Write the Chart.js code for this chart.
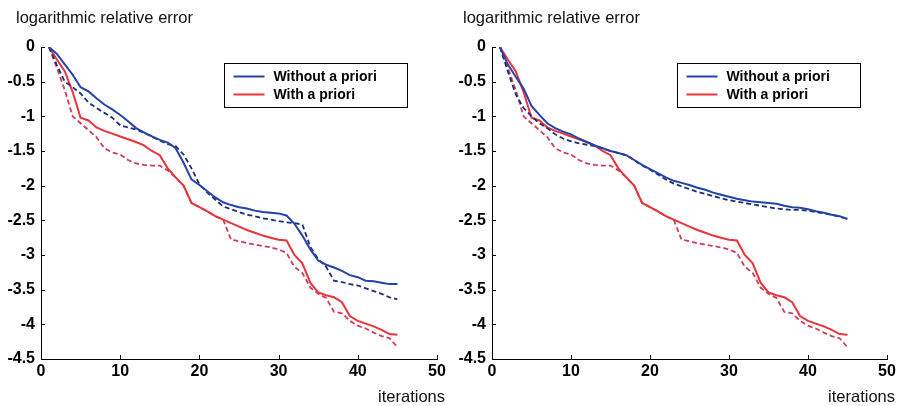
<!DOCTYPE html>
<html>
<head>
<meta charset="utf-8">
<script src="https://cdn.jsdelivr.net/npm/chart.js@4/dist/chart.umd.min.js"></script>
<style>
  html, body { margin: 0; padding: 0; background: #fff; }
  #wrap { position: relative; width: 899px; height: 406px; overflow: hidden; }
  .panel { position: absolute; top: 0; height: 406px; }
  #p1 { left: 0; width: 450px; }
  #p2 { left: 450px; width: 449px; }
</style>
</head>
<body>
<div id="wrap">
  <div class="panel" id="p1"><canvas id="c1" width="450" height="406"></canvas></div>
  <div class="panel" id="p2"><canvas id="c2" width="449" height="406"></canvas></div>
</div>
<script>
// Iteration numbers shared by every curve
const iterations = [1, 2, 3, 4, 5, 6, 7, 8, 9, 10, 11, 12, 13, 14, 15, 16, 17, 18, 19, 20,
  21, 22, 23, 24, 25, 26, 27, 28, 29, 30, 31, 32, 33, 34, 35, 36, 37, 38, 39, 40,
  41, 42, 43, 44, 45];

// Axis ticks
const xTicks = [0, 10, 20, 30, 40, 50];
const yTicks = [0, -0.5, -1, -1.5, -2, -2.5, -3, -3.5, -4, -4.5];

// Texts
const legendLabels = ['Without a priori', 'With a priori'];
const yAxisTitle = 'logarithmic relative error';
const xAxisTitle = 'iterations';

// Left panel, without a priori (solid and dashed runs)
const leftWithout = [0, -0.1, -0.25, -0.4, -0.58, -0.64, -0.74, -0.83, -0.9, -0.98,
  -1.07, -1.17, -1.23, -1.29, -1.34, -1.38, -1.46, -1.67, -1.91, -1.99,
  -2.08, -2.17, -2.24, -2.28, -2.31, -2.33, -2.36, -2.38, -2.39, -2.4,
  -2.43, -2.55, -2.72, -2.92, -3.08, -3.14, -3.18, -3.23, -3.29, -3.32,
  -3.37, -3.38, -3.4, -3.42, -3.42];
const leftWithoutDashed = [0, -0.26, -0.5, -0.58, -0.67, -0.8, -0.88, -0.95, -1.02, -1.13,
  -1.16, -1.19, -1.24, -1.29, -1.35, -1.4, -1.43, -1.55, -1.75, -1.98,
  -2.1, -2.2, -2.3, -2.34, -2.38, -2.42, -2.44, -2.47, -2.49, -2.51,
  -2.53, -2.54, -2.56, -2.88, -3.06, -3.17, -3.37, -3.39, -3.42, -3.44,
  -3.48, -3.52, -3.56, -3.61, -3.64];

// Right panel, without a priori (solid and dashed runs)
const rightWithout = [0, -0.25, -0.43, -0.6, -0.85, -0.98, -1.1, -1.17, -1.22, -1.26,
  -1.32, -1.37, -1.42, -1.46, -1.5, -1.53, -1.56, -1.63, -1.7, -1.76,
  -1.82, -1.88, -1.93, -1.96, -1.99, -2.03, -2.06, -2.1, -2.13, -2.16,
  -2.19, -2.21, -2.23, -2.24, -2.25, -2.26, -2.29, -2.31, -2.32, -2.34,
  -2.37, -2.39, -2.42, -2.44, -2.48];
const rightWithoutDashed = [0, -0.35, -0.68, -0.88, -1.0, -1.1, -1.17, -1.26, -1.32, -1.36,
  -1.39, -1.41, -1.43, -1.46, -1.5, -1.53, -1.56, -1.63, -1.71, -1.77,
  -1.84, -1.91, -1.97, -2.01, -2.05, -2.09, -2.12, -2.15, -2.18, -2.21,
  -2.23, -2.25, -2.27, -2.29, -2.31, -2.33, -2.34, -2.35, -2.35, -2.36,
  -2.38, -2.4, -2.42, -2.45, -2.48];

// With a priori (same in both panels)
const withPriori = [0, -0.18, -0.35, -0.65, -1.02, -1.06, -1.16, -1.21, -1.25, -1.29,
  -1.33, -1.37, -1.42, -1.5, -1.56, -1.75, -1.88, -2.0, -2.25, -2.31,
  -2.37, -2.44, -2.49, -2.54, -2.59, -2.64, -2.68, -2.72, -2.75, -2.78,
  -2.79, -3.0, -3.12, -3.4, -3.54, -3.58, -3.61, -3.68, -3.88, -3.95,
  -3.99, -4.03, -4.08, -4.14, -4.15];
const withPrioriDashed = [0, -0.3, -0.62, -1.0, -1.1, -1.2, -1.3, -1.46, -1.52, -1.55,
  -1.63, -1.68, -1.7, -1.71, -1.71, -1.78, -1.88, -2.0, -2.25, -2.31,
  -2.37, -2.44, -2.49, -2.78, -2.8, -2.83, -2.85, -2.87, -2.89, -2.92,
  -2.97, -3.17, -3.26, -3.47, -3.56, -3.62, -3.82, -3.84, -3.95, -4.02,
  -4.06, -4.12, -4.17, -4.2, -4.33];

const BLUE = '#2443a6';
const NAVY = '#1f2e78';
const RED = '#e8343a';
const ROSE = '#d23c58';
const FONT = '"Liberation Sans", Arial, Helvetica, sans-serif';

function points(values) {
  return iterations.map((it, i) => ({ x: it, y: values[i] }));
}

// Inward tick marks, axis texts and the boxed legend
const decor = {
  id: 'decor',
  afterDraw(chart, args, opts) {
    const { ctx, chartArea: a, scales: { x, y } } = chart;
    ctx.save();
    ctx.strokeStyle = '#000';
    ctx.lineWidth = 1;
    ctx.beginPath();
    x.ticks.forEach(t => {
      const px = Math.round(x.getPixelForValue(t.value)) + 0.5;
      ctx.moveTo(px, a.bottom);
      ctx.lineTo(px, a.bottom - 4);
    });
    y.ticks.forEach(t => {
      const py = Math.round(y.getPixelForValue(t.value)) + 0.5;
      ctx.moveTo(a.left, py);
      ctx.lineTo(a.left + 4, py);
    });
    ctx.stroke();

    ctx.fillStyle = '#111';
    ctx.font = '16.5px ' + FONT;
    ctx.textBaseline = 'middle';
    ctx.textAlign = 'left';
    ctx.fillText(yAxisTitle, opts.titleX, 18);
    ctx.textAlign = 'right';
    ctx.fillText(xAxisTitle, opts.xTitleRight, 397);

    // legend
    const bx = opts.legendLeft + 0.5, by = 63.5, bw = 183, bh = 44;
    ctx.fillStyle = '#fff';
    ctx.fillRect(bx, by, bw, bh);
    ctx.strokeStyle = '#000';
    ctx.lineWidth = 1;
    ctx.strokeRect(bx, by, bw, bh);
    const entries = chart.data.datasets.filter(d => d.inLegend);
    entries.forEach((d, i) => {
      const ly = by + 13 + i * 18;
      ctx.strokeStyle = d.borderColor;
      ctx.lineWidth = 2;
      ctx.beginPath();
      ctx.moveTo(bx + 9, ly);
      ctx.lineTo(bx + 40, ly);
      ctx.stroke();
      ctx.fillStyle = '#000';
      ctx.font = 'bold 14px ' + FONT;
      ctx.textAlign = 'left';
      ctx.fillText(d.label, bx + 49, ly + 1);
    });
    ctx.restore();
  }
};

function makeChart(id, without, withoutDashed, p) {
  return new Chart(document.getElementById(id), {
    type: 'line',
    data: {
      datasets: [
        { label: legendLabels[0], inLegend: true, data: points(without),
          borderColor: BLUE, borderWidth: 2 },
        { label: legendLabels[0] + ' (dashed)', data: points(withoutDashed),
          borderColor: NAVY, borderWidth: 1.8, borderDash: [5, 3] },
        { label: legendLabels[1], inLegend: true, data: points(withPriori),
          borderColor: RED, borderWidth: 2 },
        { label: legendLabels[1] + ' (dashed)', data: points(withPrioriDashed),
          borderColor: ROSE, borderWidth: 1.8, borderDash: [5, 3] }
      ]
    },
    options: {
      responsive: false,
      animation: false,
      devicePixelRatio: 1,
      layout: { padding: { top: 47, right: p.padRight, bottom: 0, left: 0 } },
      elements: { point: { radius: 0 }, line: { tension: 0 } },
      plugins: {
        legend: { display: false },
        tooltip: { enabled: false },
        decor: { titleX: p.titleX, xTitleRight: p.xTitleRight, legendLeft: p.legendLeft }
      },
      scales: {
        x: {
          type: 'linear', min: 0, max: 50,
          afterBuildTicks: s => { s.ticks = xTicks.map(v => ({ value: v })); },
          afterFit: s => { s.height = 47; },
          grid: { display: true, drawOnChartArea: false, drawTicks: false },
          border: { display: true, color: '#000', width: 1 },
          ticks: { color: '#000', padding: 3, maxRotation: 0,
                   callback: v => String(v),
                   font: { family: FONT, size: 16, weight: 'bold' } }
        },
        y: {
          type: 'linear', min: -4.5, max: 0,
          afterBuildTicks: s => { s.ticks = yTicks.map(v => ({ value: v })); },
          afterFit: s => { s.width = p.axisLeft; },
          grid: { display: true, drawOnChartArea: false, drawTicks: false },
          border: { display: true, color: '#000', width: 1 },
          ticks: { color: '#000', padding: 6,
                   callback: v => String(v),
                   font: { family: FONT, size: 16, weight: 'bold' } }
        }
      }
    },
    plugins: [decor]
  });
}

makeChart('c1', leftWithout, leftWithoutDashed,
  { axisLeft: 41, padRight: 13, titleX: 16, xTitleRight: 445, legendLeft: 224 });
makeChart('c2', rightWithout, rightWithoutDashed,
  { axisLeft: 42, padRight: 12, titleX: 13, xTitleRight: 445, legendLeft: 227 });
</script>
</body>
</html>
